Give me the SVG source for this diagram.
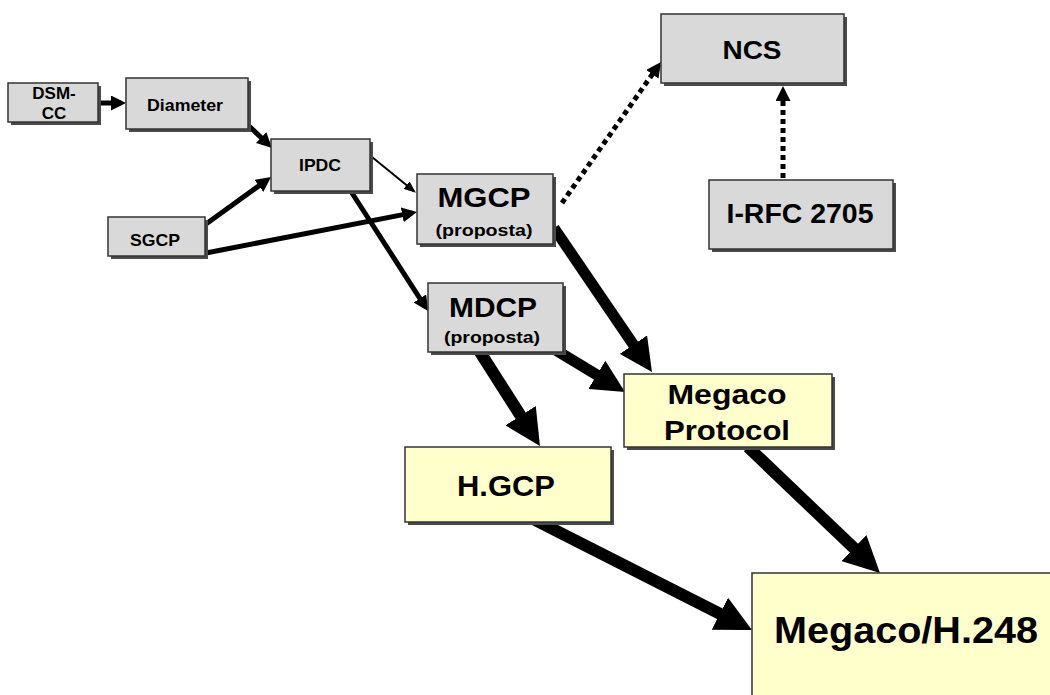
<svg xmlns="http://www.w3.org/2000/svg" width="1050" height="695" viewBox="0 0 1050 695">
  <style>
    .shadow { fill: #4a4a4a; }
    .gray { fill: #d9d9d9; stroke: #333; stroke-width: 1.5; }
    .yellow { fill: #ffffcc; stroke: #333; stroke-width: 1.5; }
    text { font-family: "Liberation Sans", Arial, sans-serif; font-weight: bold; fill: #000; text-anchor: middle; }
    .conn { stroke: #000; fill: none; stroke-linecap: butt; }
    .dotted { stroke-dasharray: 5 4; }
  </style>
  <defs>
    <marker id="ah" viewBox="0 0 10 10" refX="6.67" refY="5" markerWidth="3" markerHeight="3" orient="auto" markerUnits="strokeWidth">
      <path d="M0,0 L10,5 L0,10 z" fill="#000"/>
    </marker>
    <marker id="ahThin" viewBox="0 0 10 8" refX="8" refY="4" markerWidth="6" markerHeight="5" orient="auto" markerUnits="strokeWidth">
      <path d="M0,0 L10,4 L0,8 z" fill="#000"/>
    </marker>
  </defs>
  <rect width="1050" height="695" fill="#fff"/>

  <g id="connectors">
    <line class="conn" x1="99" y1="103" x2="121" y2="103" stroke-width="5" marker-end="url(#ah)"/>
    <line class="conn" x1="249" y1="126" x2="268.4" y2="144.5" stroke-width="5" marker-end="url(#ah)"/>
    <line class="conn" x1="206" y1="224" x2="267" y2="180" stroke-width="5" marker-end="url(#ah)"/>
    <line class="conn" x1="206" y1="253" x2="412.1" y2="212.9" stroke-width="5" marker-end="url(#ah)"/>
    <line class="conn" x1="372" y1="157" x2="414" y2="191.3" stroke-width="2" marker-end="url(#ahThin)"/>
    <line class="conn" x1="352" y1="193" x2="425.3" y2="306.8" stroke-width="5" marker-end="url(#ah)"/>
    <line class="conn dotted" x1="562" y1="203" x2="658.1" y2="66.1" stroke-width="5" marker-end="url(#ah)"/>
    <line class="conn dotted" x1="783" y1="178" x2="783" y2="91" stroke-width="5" marker-end="url(#ah)"/>
    <line class="conn" x1="554" y1="228" x2="645.8" y2="362.9" stroke-width="11" marker-end="url(#ah)"/>
    <line class="conn" x1="554" y1="349" x2="615.6" y2="386.3" stroke-width="11" marker-end="url(#ah)"/>
    <line class="conn" x1="480" y1="352" x2="533.5" y2="435.9" stroke-width="12" marker-end="url(#ah)"/>
    <line class="conn" x1="535" y1="520" x2="741.3" y2="624.6" stroke-width="12" marker-end="url(#ah)"/>
    <line class="conn" x1="748" y1="447" x2="871.3" y2="564.7" stroke-width="12" marker-end="url(#ah)"/>
  </g>

  <g id="dsm-cc">
    <rect class="shadow" x="11" y="86" width="90" height="39"/>
    <rect class="gray" x="8" y="83" width="90" height="39"/>
    <text x="54" y="99" font-size="17">DSM-</text>
    <text x="54" y="119" font-size="17">CC</text>
  </g>
  <g id="diameter">
    <rect class="shadow" x="129" y="81" width="122" height="51"/>
    <rect class="gray" x="126" y="78" width="122" height="51"/>
    <text x="185" y="111" font-size="17" textLength="76" lengthAdjust="spacingAndGlyphs">Diameter</text>
  </g>
  <g id="ipdc">
    <rect class="shadow" x="274" y="142" width="99" height="52"/>
    <rect class="gray" x="271" y="139" width="99" height="52"/>
    <text x="320" y="171" font-size="17" textLength="42" lengthAdjust="spacingAndGlyphs">IPDC</text>
  </g>
  <g id="sgcp">
    <rect class="shadow" x="111" y="220" width="97" height="39"/>
    <rect class="gray" x="108" y="217" width="97" height="39"/>
    <text x="155" y="246" font-size="17" textLength="50" lengthAdjust="spacingAndGlyphs">SGCP</text>
  </g>
  <g id="mgcp">
    <rect class="shadow" x="420" y="177" width="136" height="70"/>
    <rect class="gray" x="417" y="174" width="136" height="70"/>
    <text x="484" y="207" font-size="28" textLength="93" lengthAdjust="spacingAndGlyphs">MGCP</text>
    <text x="484" y="236" font-size="16" textLength="97" lengthAdjust="spacingAndGlyphs">(proposta)</text>
  </g>
  <g id="mdcp">
    <rect class="shadow" x="431" y="286" width="135" height="69"/>
    <rect class="gray" x="428" y="283" width="135" height="69"/>
    <text x="493" y="317" font-size="28" textLength="88" lengthAdjust="spacingAndGlyphs">MDCP</text>
    <text x="492" y="343" font-size="16" textLength="96" lengthAdjust="spacingAndGlyphs">(proposta)</text>
  </g>
  <g id="ncs">
    <rect class="shadow" x="664" y="17" width="183" height="69"/>
    <rect class="gray" x="661" y="14" width="183" height="69"/>
    <text x="752" y="59" font-size="25" textLength="59" lengthAdjust="spacingAndGlyphs">NCS</text>
  </g>
  <g id="i-rfc-2705">
    <rect class="shadow" x="712" y="183" width="184" height="69"/>
    <rect class="gray" x="709" y="180" width="184" height="69"/>
    <text x="800" y="223" font-size="27" textLength="147" lengthAdjust="spacingAndGlyphs">I-RFC 2705</text>
  </g>
  <g id="megaco-protocol">
    <rect class="shadow" x="627" y="377" width="208" height="73"/>
    <rect class="yellow" x="624" y="374" width="208" height="73"/>
    <text x="727" y="404" font-size="28" textLength="119" lengthAdjust="spacingAndGlyphs">Megaco</text>
    <text x="727" y="440" font-size="28" textLength="126" lengthAdjust="spacingAndGlyphs">Protocol</text>
  </g>
  <g id="h-gcp">
    <rect class="shadow" x="408" y="450" width="206" height="75"/>
    <rect class="yellow" x="405" y="447" width="206" height="75"/>
    <text x="506" y="496" font-size="30" textLength="98" lengthAdjust="spacingAndGlyphs">H.GCP</text>
  </g>
  <g id="megaco-h248">
    <rect class="shadow" x="755" y="576" width="310" height="130"/>
    <rect class="yellow" x="752" y="573" width="310" height="130"/>
    <text x="906" y="643" font-size="36" textLength="264" lengthAdjust="spacingAndGlyphs">Megaco/H.248</text>
  </g>
</svg>
